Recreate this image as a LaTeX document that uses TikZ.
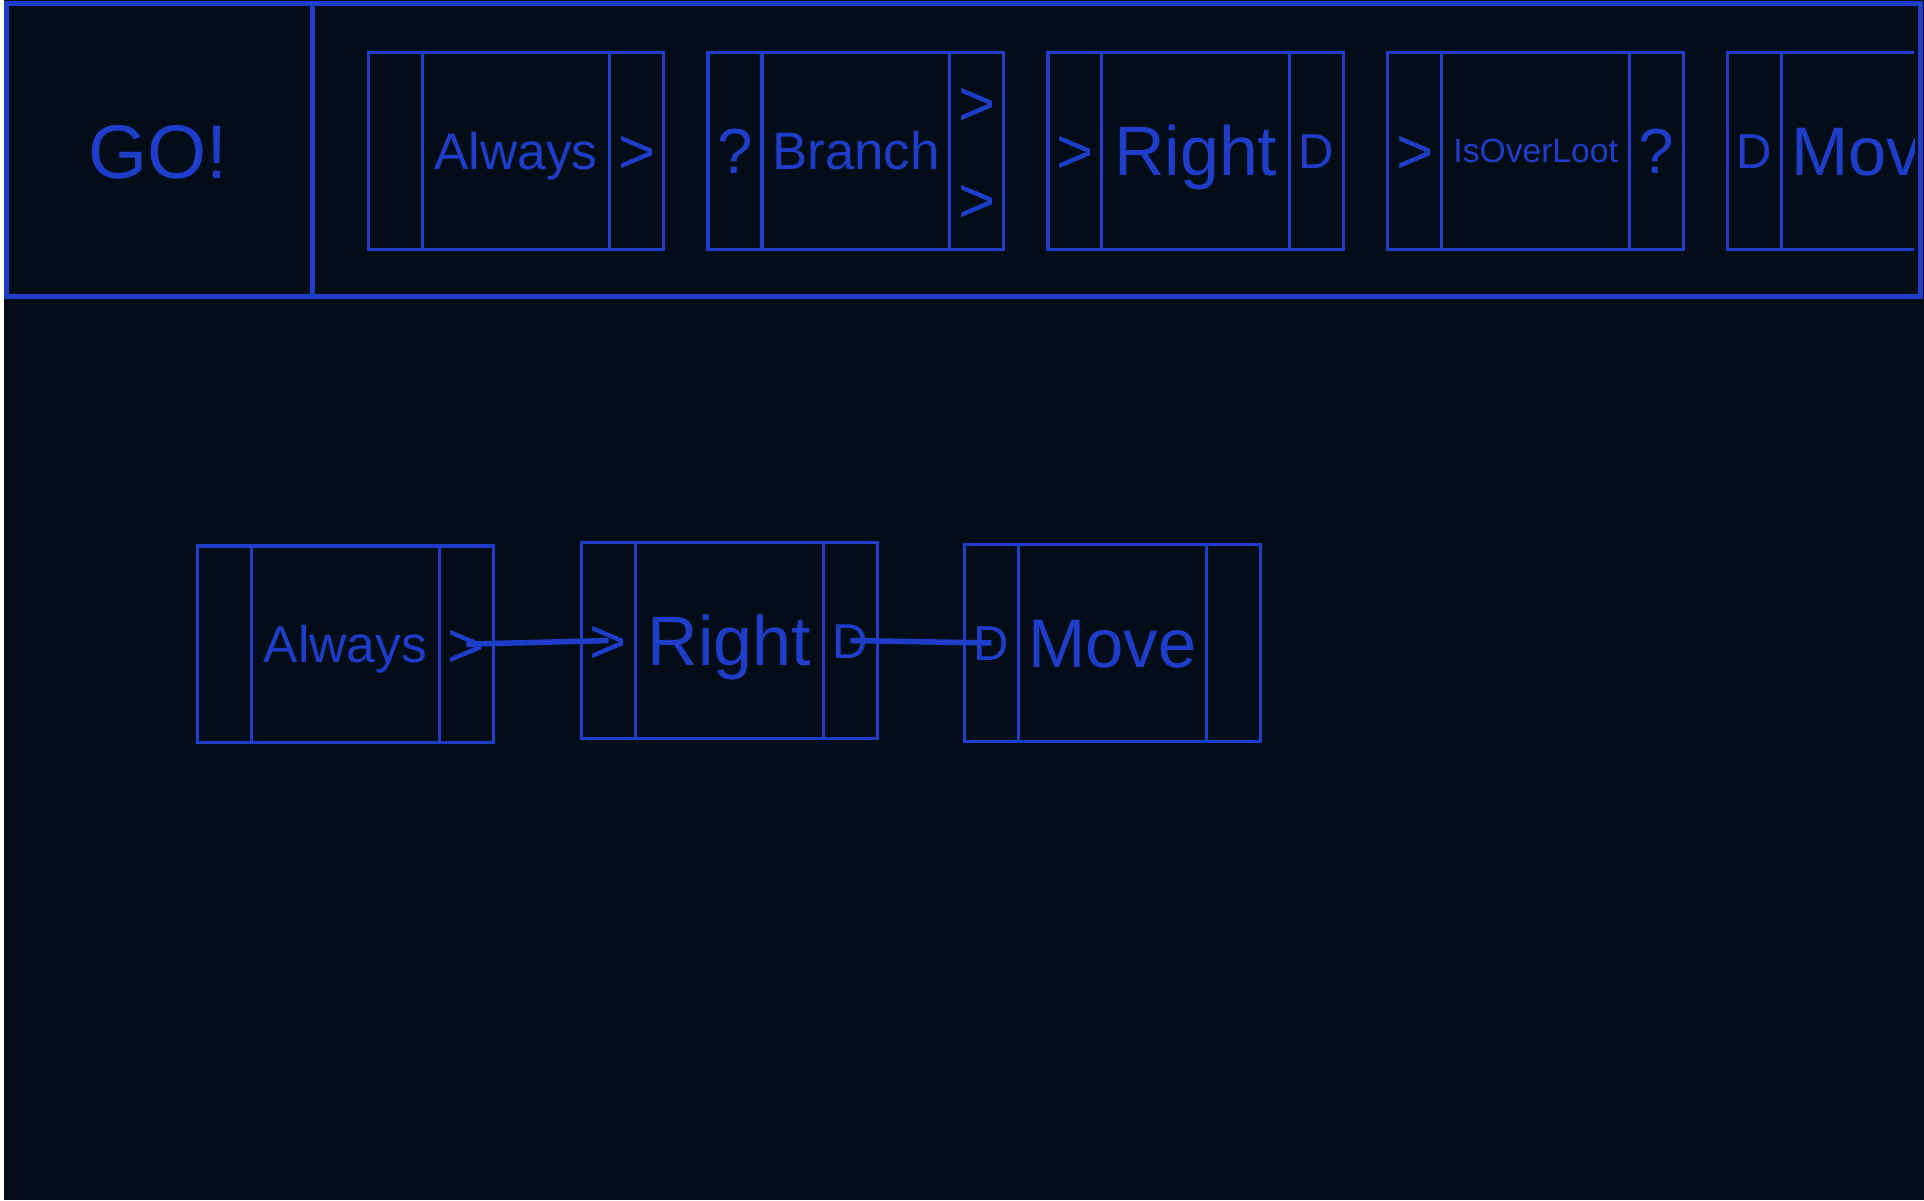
\documentclass[tikz,border=0pt]{standalone}
\usepackage{fontspec}
\setmainfont{Liberation Sans}
\usepackage{xcolor}
\usepackage{tikz}
\usetikzlibrary{positioning}
\definecolor{bg}{HTML}{020D17}
\definecolor{ink}{HTML}{1E3ECA}
\tikzset{
  tile/.style={
    rectangle,
    minimum width=241pt,
    minimum height=160pt,
    inner sep=0pt, outer sep=0pt,
    draw=ink, line width=2.6pt
    },
  tileline/.style={draw=ink, line width=2.6pt},
  sym/.style={
    text=ink, inner sep=0pt,
    font=\fontsize{52}{52}\selectfont,
    text height=37.2pt, text depth=0pt
    },
  dee/.style={
    text=ink, inner sep=0pt,
    font=\fontsize{40}{40}\selectfont,
    text height=28.6pt, text depth=0pt
    },
  bar/.style={rectangle, draw=ink, line width=4pt, inner sep=0pt, outer sep=0pt},
  wire/.style={draw=ink, line width=4.5pt},
}
% tile: name, centre, in style, in text, label size, label, out style, out text
\newcommand{\tile}[8]{%
  \node (#1) [tile] at #2 {};
  \draw [tileline] ([xshift=44pt]#1.north west) -- ([xshift=44pt]#1.south west);
  \draw [tileline] ([xshift=-44pt]#1.north east) -- ([xshift=-44pt]#1.south east);
  \node (#1-in) [#3] at ([xshift=22pt]#1.west) {#4};
  \node (#1-txt) [text=ink, anchor=base, font=\fontsize{#5}{#5}\selectfont] at ([yshift=-0.358*#5pt]#1.center) {#6};
  \node (#1-out) [#7] at ([xshift=-22pt]#1.east) {#8};
}

\begin{document}
\begin{tikzpicture}[x=1pt, y=-1pt]
\useasboundingbox (0,0) rectangle (1568,978);
\fill [white] (0,0) rectangle (1568,978);
\fill [bg] (3,0) rectangle (1568,978);

% top bar
\node (topbar) [bar, minimum width=1560pt, minimum height=239pt] at (785,122.5) {};
\draw [bar] ([xshift=250pt]topbar.north west) -- ([xshift=250pt]topbar.south west);
\node (go) [text=ink, anchor=base, font=\fontsize{62}{62}\selectfont] at (129,145.2) {GO!};

\begin{scope}
\clip (257,5) rectangle (1560,240);
\tile{always}{(420.5,123)}{sym}{}{42}{Always}{sym}{>}
\tile{branch}{(697.5,123)}{sym}{?}{43}{Branch}{sym}{}
\node (branch-yes) [sym] at ([yshift=39pt]branch-out) {>};
\node (branch-no) [sym] at ([yshift=-40pt]branch-out) {>};
\tile{right}{(974.5,123)}{sym}{>}{57}{Right}{dee}{D}
\tile{isover}{(1251.5,123)}{sym}{>}{27.4}{IsOverLoot}{sym}{?}
\tile{move}{(1528.5,123)}{dee}{D}{56}{Move}{sym}{}
\end{scope}

% sequence
\tile{alwaysB}{(281.5,525)}{sym}{}{42}{Always}{sym}{>}
\tile{rightB}{(594.5,522)}{sym}{>}{57}{Right}{dee}{D}
\tile{moveB}{(906.5,524)}{dee}{D}{56}{Move}{sym}{}
\draw [wire] (alwaysB-out.center) -- (rightB-in.center);
\draw [wire] (rightB-out.center) -- (moveB-in.center);

\end{tikzpicture}
\end{document}
